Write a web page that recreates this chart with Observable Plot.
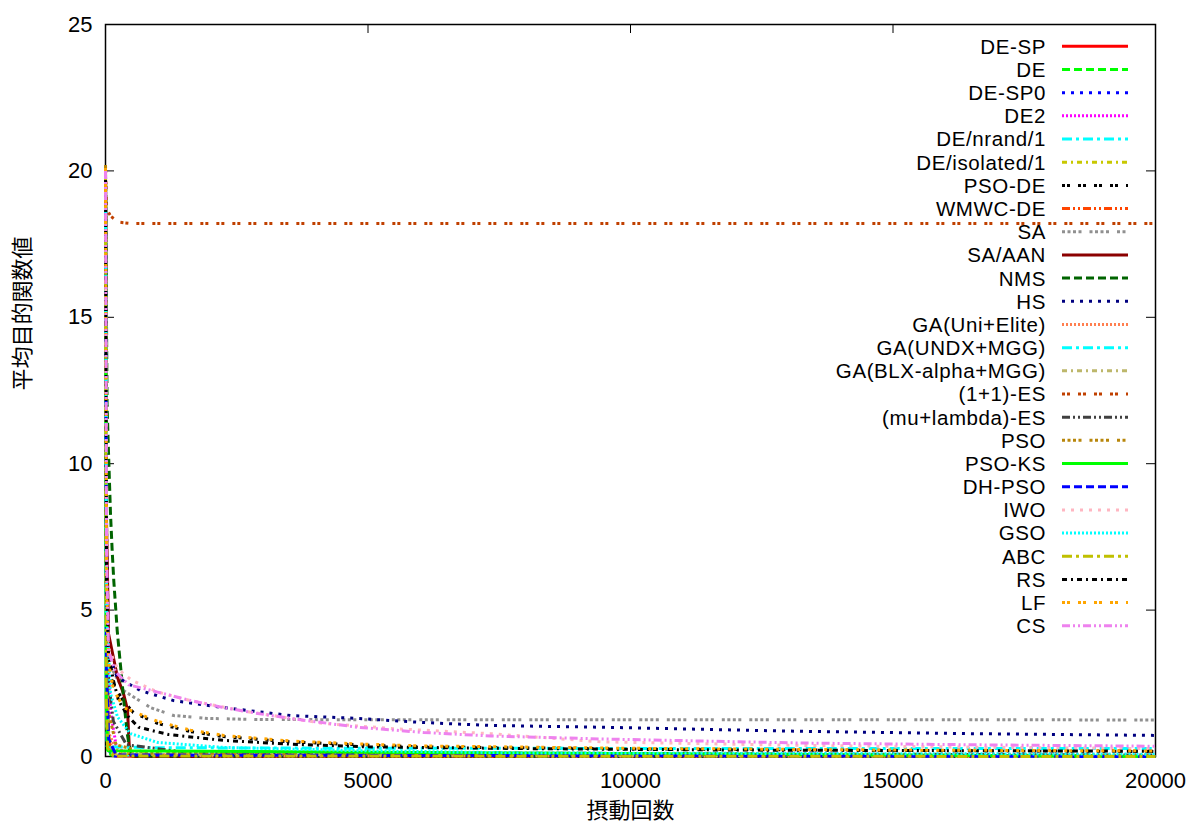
<!DOCTYPE html>
<html><head><meta charset="utf-8">
<script src="https://cdn.jsdelivr.net/npm/d3@7"></script>
<script src="https://cdn.jsdelivr.net/npm/@observablehq/plot@0.6"></script>
<style>body{margin:0;background:#fff}</style>
</head><body><div id="chart"></div>
<script>
// ---- data ----
const seriesNames = ["DE-SP","DE","DE-SP0","DE2","DE/nrand/1","DE/isolated/1","PSO-DE","WMWC-DE","SA","SA/AAN","NMS","HS","GA(Uni+Elite)","GA(UNDX+MGG)","GA(BLX-alpha+MGG)","(1+1)-ES","(mu+lambda)-ES","PSO","PSO-KS","DH-PSO","IWO","GSO","ABC","RS","LF","CS"];
const xTicks = [0,5000,10000,15000,20000];
const yTicks = [0,5,10,15,20,25];
const xLabel = "摂動回数";
const yLabel = "平均目的関数値";

const s_DE_SP = [[0,20.0],[20,4.5],[40,1.2],[80,0.2],[200,0.02],[20000,0]];
const s_DE = [[0,19.8],[20,3.0],[40,0.6],[100,0.05],[20000,0]];
const s_DE_SP0 = [[0,19.9],[20,2.0],[50,0.3],[120,0.02],[20000,0]];
const s_DE2 = [[0,20.1],[20,6],[50,3.3],[100,1.5],[200,0.4],[400,0.05],[20000,0]];
const s_DE_nrand = [[0,19.7],[20,2.5],[50,0.5],[150,0.05],[20000,0]];
const s_DE_isolated = [[0,19.6],[20,3.5],[50,0.8],[150,0.1],[20000,0]];
const s_PSO_DE = [[0,20.1],[20,5],[57,2.9],[170,2.4],[340,1.9],[530,1.5],[990,1.13],[1620,0.85],[2250,0.68],[3520,0.5],[4800,0.4],[6060,0.33],[10000,0.26],[15000,0.21],[20000,0.17]];
const s_WMWC_DE = [[0,20],[15,5],[57,0.55],[150,0.14],[400,0.03],[20000,0]];
const s_SA = [[0,20],[20,8],[57,3.6],[150,2.9],[343,2.25],[857,1.67],[1295,1.4],[1943,1.3],[3000,1.26],[20000,1.25]];
const s_SA_AAN = [[0,20],[20,8],[57,4.2],[229,2.7],[343,2.15],[419,1.6],[440,0.8],[460,0.1],[520,0],[20000,0]];
const s_NMS = [[0,20],[30,12],[57,10.4],[95,8.3],[128,7.0],[158,6.0],[223,4.3],[286,3.1],[349,1.9],[413,0.8],[476,0.1],[600,0.02],[20000,0]];
const s_HS = [[0,20],[20,7],[57,3.5],[222,2.71],[667,2.25],[1295,1.91],[2248,1.67],[3524,1.4],[4800,1.3],[6058,1.16],[7334,1.06],[9430,1.0],[13240,0.86],[16500,0.78],[20000,0.72]];
const s_GA_Uni = [[0,20],[20,4],[60,0.8],[200,0.25],[600,0.08],[2000,0.02],[20000,0]];
const s_GA_UNDX = [[0,19.5],[10,3],[30,0.33],[1000,0.3],[5000,0.28],[20000,0.27]];
const s_GA_BLX = [[0,19.8],[20,3],[60,0.5],[200,0.08],[20000,0]];
const s_ES_11 = [[0,20.2],[20,18.7],[100,18.45],[250,18.25],[500,18.2],[20000,18.2]];
const s_ES_ml = [[0,20],[20,5],[60,2.5],[150,1.2],[400,0.4],[1500,0.15],[20000,0.05]];
const s_PSO = [[0,20.2],[20,4],[60,1.5],[200,0.4],[800,0.12],[20000,0.03]];
const s_PSO_KS = [[0,19.9],[15,2],[40,0.2],[20000,0]];
const s_DH_PSO = [[0,20],[20,3],[60,0.6],[200,0.05],[20000,0]];
const s_IWO = [[0,20],[20,6],[57,3.7],[229,3.0],[500,2.6],[1000,2.2],[1620,1.91],[2570,1.57],[4150,1.13],[5500,0.95],[7334,0.78],[9430,0.5],[13240,0.38],[16500,0.32],[20000,0.27]];
const s_GSO = [[0,20],[20,5],[95,2.15],[229,1.35],[476,0.78],[991,0.48],[2248,0.31],[4800,0.2],[8000,0.12],[20000,0.08]];
const s_ABC = [[0,19.9],[15,2],[40,0.3],[150,0.02],[20000,0]];
const s_RS = [[0,20],[20,6],[57,3.5],[150,2.6],[250,1.9],[440,1.35],[630,1.0],[1200,0.75],[2250,0.55],[3520,0.42],[5000,0.33],[8000,0.27],[12000,0.22],[20000,0.18]];
const s_LF = [[0,20.1],[20,6],[57,3.2],[150,2.3],[343,1.67],[990,1.2],[1620,0.9],[2250,0.72],[3520,0.53],[4800,0.43],[6060,0.36],[10000,0.28],[15000,0.22],[20000,0.19]];
const s_CS = [[0,20],[20,7],[57,3.6],[190,2.9],[440,2.45],[990,2.2],[1620,1.91],[2250,1.67],[2900,1.47],[3520,1.3],[4800,1.0],[6060,0.82],[7334,0.7],[9430,0.6],[13240,0.46],[16500,0.4],[20000,0.35]];

const seriesData = [s_DE_SP,s_DE,s_DE_SP0,s_DE2,s_DE_nrand,s_DE_isolated,s_PSO_DE,s_WMWC_DE,s_SA,s_SA_AAN,s_NMS,s_HS,s_GA_Uni,s_GA_UNDX,s_GA_BLX,s_ES_11,s_ES_ml,s_PSO,s_PSO_KS,s_DH_PSO,s_IWO,s_GSO,s_ABC,s_RS,s_LF,s_CS];

// ---- styles ----
const colors = ["#ff0000","#00ff00","#0000ff","#ff00ff","#00ffff","#c8c800","#000000","#ff4500","#909090","#8b0000","#006400","#000080","#ff7f50","#00ffff","#bdb76b","#c04000","#404040","#b8860b","#00ff00","#0000ff","#ffb6c1","#00ffff","#c0c000","#000000","#ffa500","#ee82ee"];
const dashCycle = [null,"8,4","3,6","2,2","10,4,3,4","5,4,2,4","3,2,3,8","8,3,2,3,2,3","3,2.5,3,2.5,3,2.5,3,8"];
const dashes = seriesNames.map((_, i) => dashCycle[i % 9]);

const rows = seriesNames.flatMap((name, i) => seriesData[i].map(([x, y]) => ({name, i, x, y})));

const W = 1194, H = 825, mL = 105, mR = 39, mT = 24, mB = 69;
const pw = W - mL - mR, ph = H - mT - mB, tk = 9;
const fontFamily = "'Liberation Sans', Arial, 'Noto Sans CJK JP', sans-serif";

const lineMarks = seriesNames.map((name, i) => Plot.line(rows.filter(d => d.i === i), {
  x: "x", y: "y", stroke: colors[i], strokeWidth: 3,
  strokeDasharray: dashes[i] || undefined,
  strokeLinecap: "butt", strokeLinejoin: "miter"
}));

const svg = Plot.plot({
  width: W, height: H,
  marginLeft: mL, marginRight: mR, marginTop: mT, marginBottom: mB,
  style: {fontFamily, fontSize: "22px", color: "black", background: "white"},
  x: {domain: [0, 20000], label: null},
  y: {domain: [0, 25], label: null},
  marks: [
    Plot.tickY(yTicks, {y: d => d, stroke: "black", insetRight: pw - tk}),
    Plot.tickY(yTicks, {y: d => d, stroke: "black", insetLeft: pw - tk}),
    Plot.tickX(xTicks, {x: d => d, stroke: "black", insetTop: ph - tk}),
    Plot.tickX(xTicks, {x: d => d, stroke: "black", insetBottom: ph - tk}),
    Plot.axisY(yTicks, {tickSize: 0, tickPadding: 13, label: null, tickFormat: d => String(d), fontSize: 22}),
    Plot.axisX(xTicks, {tickSize: 0, tickPadding: 16, label: null, tickFormat: d => String(d), fontSize: 22}),
    Plot.frame({stroke: "black", strokeWidth: 1.5}),
    ...lineMarks,
    Plot.text([yLabel], {text: d => d, frameAnchor: "left", dx: -83, rotate: -90, fontSize: 22, fill: "black"}),
    Plot.text([xLabel], {text: d => d, frameAnchor: "bottom", dy: 61, fontSize: 22, fill: "black"})
  ]
});

// ---- legend (inside top-right) ----
const lg = d3.select(svg).append("g").attr("font-family", fontFamily).attr("font-size", 20.5).attr("letter-spacing", "0.6px");
seriesNames.forEach((name, i) => {
  const cy = 46.3 + i * 23.18;
  lg.append("text").attr("x", 1046).attr("y", cy + 7.4).attr("text-anchor", "end").attr("fill", "black").text(name);
  lg.append("line").attr("x1", 1062).attr("x2", 1128).attr("y1", cy).attr("y2", cy)
    .attr("stroke", colors[i]).attr("stroke-width", 3)
    .attr("stroke-dasharray", dashes[i] || null);
});

document.getElementById("chart").appendChild(svg);
</script>
</body></html>
